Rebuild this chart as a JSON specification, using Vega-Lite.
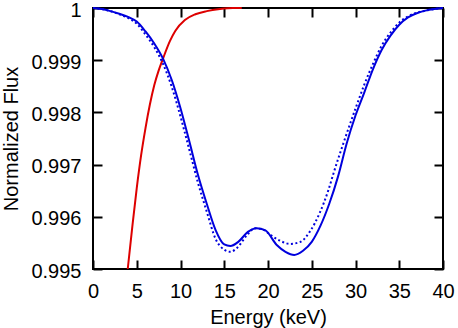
{
  "$schema": "https://vega.github.io/schema/vega-lite/v6.json",
  "width": 350,
  "height": 261,
  "autosize": {"type": "none"},
  "padding": {"left": 93, "top": 8, "right": 15, "bottom": 59},
  "background": "white",
  "config": {
    "view": {"stroke": "black", "strokeWidth": 2},
    "axis": {
      "domain": false, "grid": false, "labelFlush": false,
      "labelFont": "Liberation Sans", "titleFont": "Liberation Sans",
      "labelFontSize": 20, "titleFontSize": 20,
      "labelColor": "black", "titleColor": "black", "titleFontWeight": "normal",
      "tickColor": "black", "tickWidth": 2, "tickSize": -9
    }
  },
  "data": {"values": [
    {"s": "red", "E": 3.97, "v": 0.99500},
    {"s": "red", "E": 4.5, "v": 0.99582},
    {"s": "red", "E": 5, "v": 0.99655},
    {"s": "red", "E": 5.5, "v": 0.99718},
    {"s": "red", "E": 6, "v": 0.99770},
    {"s": "red", "E": 6.5, "v": 0.99815},
    {"s": "red", "E": 7, "v": 0.99852},
    {"s": "red", "E": 7.5, "v": 0.99880},
    {"s": "red", "E": 8, "v": 0.99903},
    {"s": "red", "E": 8.8, "v": 0.99937},
    {"s": "red", "E": 9.4, "v": 0.99956},
    {"s": "red", "E": 10.5, "v": 0.99977},
    {"s": "red", "E": 11.7, "v": 0.99988},
    {"s": "red", "E": 13, "v": 0.99994},
    {"s": "red", "E": 14.5, "v": 0.99998},
    {"s": "red", "E": 16, "v": 1.0},
    {"s": "red", "E": 17, "v": 1.0},
    {"s": "blue", "E": 0, "v": 1.0},
    {"s": "blue", "E": 1, "v": 0.99998},
    {"s": "blue", "E": 2, "v": 0.99994},
    {"s": "blue", "E": 3, "v": 0.99989},
    {"s": "blue", "E": 4, "v": 0.99983},
    {"s": "blue", "E": 5, "v": 0.99974},
    {"s": "blue", "E": 6, "v": 0.99955},
    {"s": "blue", "E": 7, "v": 0.99932},
    {"s": "blue", "E": 8, "v": 0.99903},
    {"s": "blue", "E": 9, "v": 0.99862},
    {"s": "blue", "E": 10, "v": 0.99808},
    {"s": "blue", "E": 11, "v": 0.99745},
    {"s": "blue", "E": 12, "v": 0.99680},
    {"s": "blue", "E": 13, "v": 0.99625},
    {"s": "blue", "E": 14, "v": 0.99575},
    {"s": "blue", "E": 15, "v": 0.99547},
    {"s": "blue", "E": 15.7, "v": 0.99544},
    {"s": "blue", "E": 16.6, "v": 0.99552},
    {"s": "blue", "E": 17.7, "v": 0.99571},
    {"s": "blue", "E": 18.7, "v": 0.99578},
    {"s": "blue", "E": 19.7, "v": 0.99574},
    {"s": "blue", "E": 21, "v": 0.99546},
    {"s": "blue", "E": 22, "v": 0.99533},
    {"s": "blue", "E": 23, "v": 0.99527},
    {"s": "blue", "E": 24, "v": 0.99535},
    {"s": "blue", "E": 25, "v": 0.99552},
    {"s": "blue", "E": 26, "v": 0.99583},
    {"s": "blue", "E": 27, "v": 0.99625},
    {"s": "blue", "E": 28, "v": 0.99677},
    {"s": "blue", "E": 29, "v": 0.99741},
    {"s": "blue", "E": 30, "v": 0.99794},
    {"s": "blue", "E": 31, "v": 0.99838},
    {"s": "blue", "E": 32, "v": 0.99883},
    {"s": "blue", "E": 33, "v": 0.99920},
    {"s": "blue", "E": 34, "v": 0.99947},
    {"s": "blue", "E": 35, "v": 0.99968},
    {"s": "blue", "E": 36, "v": 0.99982},
    {"s": "blue", "E": 37, "v": 0.99990},
    {"s": "blue", "E": 38, "v": 0.99995},
    {"s": "blue", "E": 39, "v": 0.99998},
    {"s": "blue", "E": 40, "v": 1.0},
    {"s": "dot", "E": 0, "v": 1.0},
    {"s": "dot", "E": 1, "v": 0.99998},
    {"s": "dot", "E": 2, "v": 0.99994},
    {"s": "dot", "E": 3, "v": 0.99988},
    {"s": "dot", "E": 4, "v": 0.99981},
    {"s": "dot", "E": 5, "v": 0.99970},
    {"s": "dot", "E": 6, "v": 0.99949},
    {"s": "dot", "E": 7, "v": 0.99925},
    {"s": "dot", "E": 8, "v": 0.99893},
    {"s": "dot", "E": 9, "v": 0.99849},
    {"s": "dot", "E": 10, "v": 0.99792},
    {"s": "dot", "E": 11, "v": 0.99729},
    {"s": "dot", "E": 12, "v": 0.99665},
    {"s": "dot", "E": 13, "v": 0.99610},
    {"s": "dot", "E": 14, "v": 0.99558},
    {"s": "dot", "E": 15, "v": 0.99537},
    {"s": "dot", "E": 15.7, "v": 0.99533},
    {"s": "dot", "E": 16.5, "v": 0.99541},
    {"s": "dot", "E": 17.6, "v": 0.99565},
    {"s": "dot", "E": 18.5, "v": 0.99578},
    {"s": "dot", "E": 19.5, "v": 0.99575},
    {"s": "dot", "E": 20.3, "v": 0.99565},
    {"s": "dot", "E": 21.4, "v": 0.99554},
    {"s": "dot", "E": 22.5, "v": 0.99548},
    {"s": "dot", "E": 23.7, "v": 0.99552},
    {"s": "dot", "E": 24.8, "v": 0.99572},
    {"s": "dot", "E": 25.9, "v": 0.99607},
    {"s": "dot", "E": 26.9, "v": 0.99651},
    {"s": "dot", "E": 27.5, "v": 0.99684},
    {"s": "dot", "E": 28.6, "v": 0.99740},
    {"s": "dot", "E": 30.1, "v": 0.99812},
    {"s": "dot", "E": 31, "v": 0.99853},
    {"s": "dot", "E": 32, "v": 0.99893},
    {"s": "dot", "E": 33, "v": 0.99928},
    {"s": "dot", "E": 34, "v": 0.99953},
    {"s": "dot", "E": 35, "v": 0.99972},
    {"s": "dot", "E": 36, "v": 0.99984},
    {"s": "dot", "E": 37, "v": 0.99991},
    {"s": "dot", "E": 38, "v": 0.99995},
    {"s": "dot", "E": 39, "v": 0.99998},
    {"s": "dot", "E": 40, "v": 1.0}
  ]},
  "layer": [
    {
      "transform": [{"filter": "datum.s != 'dot'"}],
      "mark": {"type": "line", "strokeWidth": 2, "interpolate": "monotone"},
      "encoding": {
        "x": {"field": "E", "type": "quantitative", "scale": {"domain": [0, 40]},
          "axis": {"values": [0, 5, 10, 15, 20, 25, 30, 35, 40], "title": "Energy (keV)", "labelPadding": 21, "titlePadding": 6}},
        "y": {"field": "v", "type": "quantitative", "scale": {"domain": [0.995, 1], "zero": false},
          "axis": {"values": [0.995, 0.996, 0.997, 0.998, 0.999, 1], "title": "Normalized Flux", "labelPadding": 21, "titlePadding": 9, "labelOffset": 2,
            "labelExpr": "datum.value > 0.99999 ? '1' : format(datum.value, '.3f')"}},
        "color": {"field": "s", "type": "nominal", "scale": {"domain": ["red", "blue"], "range": ["#dd0000", "#0000dd"]}, "legend": null}
      }
    },
    {
      "transform": [{"filter": "datum.s == 'dot'"}],
      "mark": {"type": "line", "strokeWidth": 2, "strokeDash": [2, 2.5], "interpolate": "monotone", "color": "#0000dd"},
      "encoding": {
        "x": {"field": "E", "type": "quantitative", "scale": {"domain": [0, 40]},
          "axis": {"orient": "top", "values": [0, 5, 10, 15, 20, 25, 30, 35, 40], "labels": false, "title": null}},
        "y": {"field": "v", "type": "quantitative", "scale": {"domain": [0.995, 1], "zero": false},
          "axis": {"orient": "right", "values": [0.995, 0.996, 0.997, 0.998, 0.999, 1], "labels": false, "title": null}}
      }
    }
  ],
  "resolve": {"axis": {"x": "independent", "y": "independent"}}
}
